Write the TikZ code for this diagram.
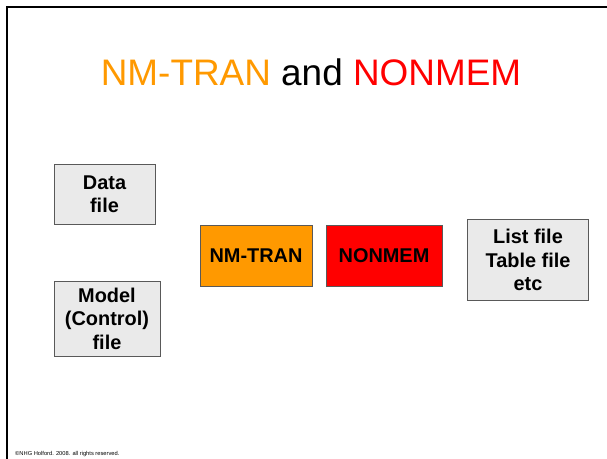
\documentclass[tikz,border=0pt]{standalone}
\usepackage{fontspec}
\setmainfont{Liberation Sans}
\definecolor{nmorange}{HTML}{FF9900}
\definecolor{nmred}{HTML}{FF0000}
\definecolor{filegray}{HTML}{EAEAEA}
\begin{document}
\begin{tikzpicture}[x=0.03cm, y=-0.03cm,
  box/.style={draw=black!65, line width=0.8pt, align=center, inner sep=0pt,
    font=\fontsize{17}{20}\selectfont\bfseries},
  filebox/.style={box, fill=filegray},
  progbox/.style={box, fill=#1}]
\useasboundingbox (0,0) rectangle (607,459);
\draw[line width=1.7pt] (7,459) -- (7,7) -- (607,7);
\node (title) at (311,72) {\fontsize{31.5}{36}\selectfont\textcolor{nmorange}{NM-TRAN} and \textcolor{nmred}{NONMEM}};
\node[filebox, minimum width=101*0.03cm, minimum height=60*0.03cm] (data) at (104.5,194) {Data\\file};
\node[filebox, minimum width=106*0.03cm, minimum height=75*0.03cm] (model) at (107,318.5) {Model\\(Control)\\file};
\node[progbox=nmorange, minimum width=112*0.03cm, minimum height=61*0.03cm] (nmtran) at (256,255.5) {NM-TRAN};
\node[progbox=nmred, minimum width=116*0.03cm, minimum height=61*0.03cm] (nonmem) at (384,255.5) {NONMEM};
\node[filebox, minimum width=121*0.03cm, minimum height=81*0.03cm] (output) at (528,260) {List file\\Table file\\etc};
\node[anchor=base west, inner sep=0pt, font=\fontsize{4.9}{5}\selectfont] (copy) at (15,456) {\copyright NHG Holford. 2008. all rights reserved.};
\end{tikzpicture}
\end{document}
